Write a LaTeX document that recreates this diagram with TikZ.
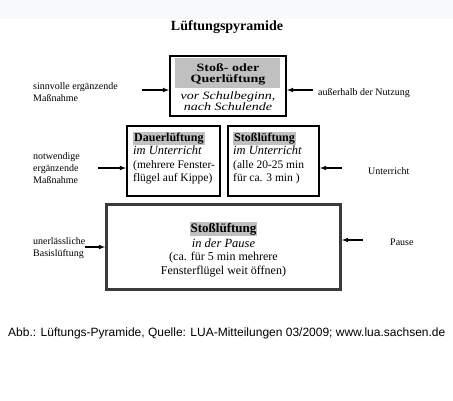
\documentclass[tikz,border=0pt]{standalone}
\usepackage{fontspec}
\setmainfont{Liberation Serif}
\newfontfamily\capfont{Liberation Sans}
\definecolor{hl}{RGB}{192,192,192}
\definecolor{band}{RGB}{248,249,251}
\definecolor{dkframe}{RGB}{58,58,58}
\newcommand{\hlt}[1]{{\fboxsep=1pt\colorbox{hl}{#1}}}
\newcommand{\squash}[1]{\scalebox{1}[0.8]{\begin{tabular}{@{}c@{}}#1\end{tabular}}}

\begin{document}
\begin{tikzpicture}[x=1pt,y=-1pt,
	frame/.style={draw, rectangle, line width=2pt, inner sep=0pt},
	txt/.style={inner sep=0pt},
	side/.style={inner sep=0pt, anchor=west, align=left, font=\fontsize{10}{12}\selectfont},
	arr/.style={-latex, line width=1.1pt}]
	\useasboundingbox (0,0) rectangle (453,400);
	\fill[band] (0,0) rectangle (453,19);
	\node[txt, font=\fontsize{14}{16}\selectfont\bfseries] (title) at (227,27) {Lüftungspyramide};

	\node[frame, minimum width=116, minimum height=60] (top) at (228,86) {};
	\node[fill=hl, inner sep=0pt, minimum width=105, minimum height=30] (topshade) at (227.5,73) {};
	\node[txt, font=\fontsize{14}{13.75}\selectfont\bfseries] (tophead) at (228,74.5) {\squash{Stoß- oder\\Querlüftung}};
	\node[txt, font=\fontsize{14}{13.75}\selectfont\itshape] (topbody) at (228,103) {\squash{vor Schulbeginn,\\nach Schulende}};

	\node[frame, minimum width=93, minimum height=70] (dauer) at (173.5,161) {};
	\node[frame, minimum width=91, minimum height=70] (stoss) at (273.5,161) {};
	\node[txt, anchor=west, align=left, font=\fontsize{11.5}{13.5}\selectfont] (dauertext) at (133,158)
		{\hlt{\fontsize{12}{13.5}\selectfont\textbf{Dauerlüftung}}\\{\fontsize{12.5}{13.5}\selectfont\textit{im Unterricht}}\\(mehrere Fenster-\\flügel auf Kippe)};
	\node[txt, anchor=west, align=left, font=\fontsize{11.5}{13.5}\selectfont] (stosstext) at (233,158)
		{\hlt{\fontsize{12}{13.5}\selectfont\textbf{Stoßlüftung}}\\{\fontsize{12.5}{13.5}\selectfont\textit{im Unterricht}}\\(alle 20-25 min\\für ca. 3 min )};

	\node[frame, draw=dkframe, line width=3pt, minimum width=234, minimum height=85] (pause) at (223.5,247) {};
	\node[txt, align=center, font=\fontsize{12}{13.5}\selectfont] (pausetext) at (223.5,249.5)
		{\hlt{\fontsize{13}{15}\selectfont\textbf{Stoßlüftung}}\\[1.5pt]{\fontsize{12.5}{13.5}\selectfont\textit{in der Pause}}\\(ca. für 5 min mehrere\\Fensterflügel weit öffnen)};

	\node[side] (toplab) at (33,92) {sinnvolle ergänzende\\Maßnahme};
	\node[side] (toprlab) at (318,93) {außerhalb der Nutzung};
	\node[side] (midlab) at (33,168.5) {notwendige\\ergänzende\\Maßnahme};
	\node[side] (midrlab) at (368,171) {Unterricht};
	\node[side] (botlab) at (33,248.5) {unerlässliche\\Basislüftung};
	\node[side] (botrlab) at (390,242) {Pause};

	\coordinate (tl) at (142,90);
	\coordinate (tr) at (313,90);
	\coordinate (ml) at (98,168);
	\coordinate (mr) at (342,168);
	\coordinate (bl) at (85,247);
	\coordinate (br) at (363,240);
	\draw[arr] (tl) -- (tl -| top.west);
	\draw[arr] (tr) -- (tr -| top.east);
	\draw[arr] (ml) -- (ml -| dauer.west);
	\draw[arr] (mr) -- (mr -| stoss.east);
	\draw[arr] (bl) -- (bl -| pause.west);
	\draw[arr] (br) -- (br -| pause.east);

	\node[txt, anchor=west, font=\capfont\fontsize{12}{14}\selectfont] (caption) at (8,333)
		{Abb.: Lüftungs-Pyramide, Quelle: LUA-Mitteilungen 03/2009; www.lua.sachsen.de};
\end{tikzpicture}
\end{document}
